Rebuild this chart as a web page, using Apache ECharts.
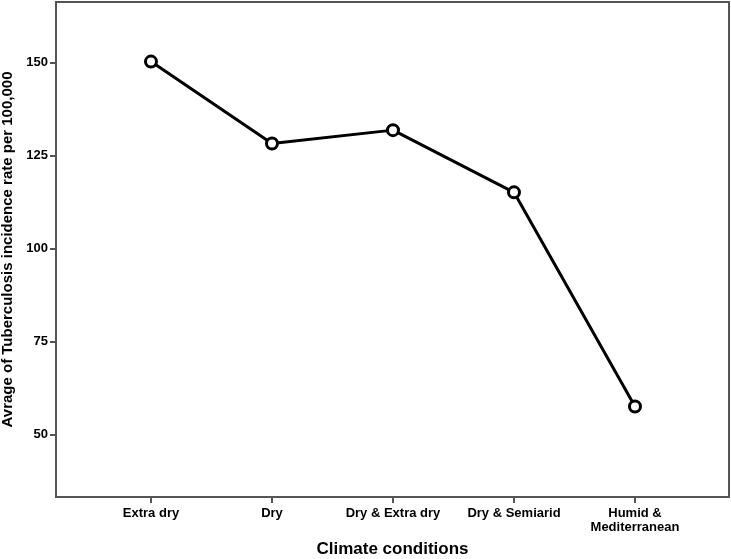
<!DOCTYPE html>
<html>
<head>
<meta charset="utf-8">
<script src="https://cdn.jsdelivr.net/npm/echarts@6/dist/echarts.min.js"></script>
<style>
  html, body { margin: 0; padding: 0; background: #fff; }
  #chart { width: 731px; height: 559px; }
</style>
</head>
<body>
<div id="chart"></div>
<script>
const categories = ["Extra dry", "Dry", "Dry & Extra dry", "Dry & Semiarid", "Humid &\nMediterranean"];
const rates = [150.2, 128.2, 131.8, 115.1, 57.6];
const yTicks = [50, 75, 100, 125, 150];

const chart = echarts.init(document.getElementById("chart"));
const font = "Arial, 'Liberation Sans', sans-serif";

chart.setOption({
  animation: false,
  grid: {
    left: 56,
    right: 2,
    top: 2,
    bottom: 62,
    containLabel: false,
    outerBoundsMode: "none",
    show: true,
    borderColor: "#555",
    borderWidth: 2
  },
  xAxis: {
    type: "value",
    min: -0.785,
    max: 4.777,
    name: "Climate conditions",
    nameLocation: "middle",
    nameGap: 44,
    nameTextStyle: { color: "#000", fontWeight: "bold", fontSize: 17, fontFamily: font },
    axisLine: { onZero: false, lineStyle: { color: "#555", width: 2 } },
    axisTick: { show: true, length: 6, lineStyle: { color: "#555", width: 2 }, customValues: [0, 1, 2, 3, 4] },
    axisLabel: {
      customValues: [0, 1, 2, 3, 4],
      formatter: v => categories[Math.round(v)],
      color: "#000",
      fontWeight: "bold",
      fontSize: 13,
      fontFamily: font,
      margin: 9,
      lineHeight: 14
    },
    splitLine: { show: false }
  },
  yAxis: {
    type: "value",
    min: 33.3,
    max: 166.2,
    name: "Avrage of Tuberculosis incidence rate per 100,000",
    nameLocation: "middle",
    nameGap: 39,
    nameTextStyle: { color: "#000", fontWeight: "bold", fontSize: 15, fontFamily: font },
    axisLine: { show: true, onZero: false, lineStyle: { color: "#555", width: 2 } },
    axisTick: { show: true, length: 6, lineStyle: { color: "#555", width: 2 }, customValues: yTicks },
    axisLabel: {
      customValues: yTicks,
      color: "#000",
      fontWeight: "bold",
      fontSize: 13,
      fontFamily: font,
      margin: 8
    },
    splitLine: { show: false }
  },
  series: [
    {
      type: "line",
      data: rates.map((v, i) => [i, v]),
      symbol: "circle",
      symbolSize: 11,
      itemStyle: { color: "#fff", borderColor: "#000", borderWidth: 3 },
      lineStyle: { color: "#000", width: 3 }
    }
  ]
});
</script>
</body>
</html>
